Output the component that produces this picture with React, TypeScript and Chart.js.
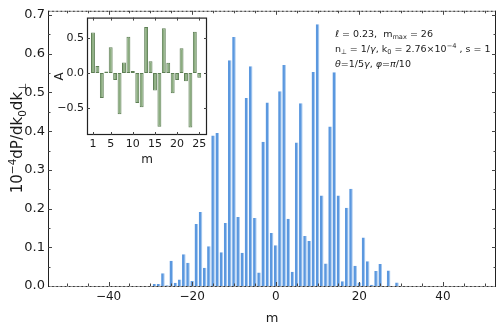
import React, { useEffect, useRef } from 'react';
import { Chart, registerables } from 'chart.js';

Chart.register(...registerables);

// ---------- data ----------
const M_VALUES = [
  -29, -28, -27, -26, -25, -24, -23, -22, -21, -20,
  -19, -18, -17, -16, -15, -14, -13, -12, -11, -10,
  -9, -8, -7, -6, -5, -4, -3, -2, -1, 0,
  1, 2, 3, 4, 5, 6, 7, 8, 9, 10,
  11, 12, 13, 14, 15, 16, 17, 18, 19, 20,
  21, 22, 23, 24, 25, 26, 27, 28, 29,
];
const POWER_VALUES = [
  0.005, 0.005, 0.033, 0.002, 0.065, 0.0085, 0.017, 0.082, 0.060, 0.013,
  0.160, 0.191, 0.047, 0.103, 0.389, 0.395, 0.0875, 0.163, 0.583, 0.643,
  0.178, 0.086, 0.486, 0.568, 0.176, 0.035, 0.373, 0.474, 0.137, 0.105,
  0.503, 0.571, 0.174, 0.037, 0.371, 0.472, 0.129, 0.116, 0.553, 0.676,
  0.234, 0.058, 0.412, 0.552, 0.234, 0.012, 0.202, 0.251, 0.052, 0.009,
  0.125, 0.064, 0.003, 0.039, 0.057, 0.0, 0.040, 0.0, 0.009,
];
const X_TICKS = [-40, -20, 0, 20, 40];
const Y_TICKS = [0, 0.1, 0.2, 0.3, 0.4, 0.5, 0.6, 0.7];

const INSET_M = [
  1, 2, 3, 4, 5, 6, 7, 8, 9, 10, 11, 12, 13,
  14, 15, 16, 17, 18, 19, 20, 21, 22, 23, 24, 25,
];
const INSET_A = [
  0.58, 0.10, -0.36, 0.02, 0.37, -0.10, -0.59, 0.15, 0.52, 0.03, -0.43, -0.49, 0.66,
  0.17, -0.25, -0.77, 0.64, 0.145, -0.29, -0.10, 0.355, -0.12, -0.78, 0.59, -0.07,
];
const INSET_X_TICKS = [1, 5, 10, 15, 20, 25];
const INSET_Y_TICKS = [-0.5, 0, 0.5];

// ---------- helpers ----------
const FONT = "'DejaVu Sans', sans-serif";
const TEXT = '#1a1a1a';
const fmt = (v: number, d: number) => (v < -1e-9 ? '\u2212' : '') + Math.abs(v).toFixed(d);

type Seg = { t: string; i?: boolean; pos?: 'sub' | 'sup' };

function richWidth(ctx: CanvasRenderingContext2D, segs: Seg[], size: number) {
  let w = 0;
  for (const s of segs) {
    const fs = s.pos ? size * 0.7 : size;
    ctx.font = `${s.i ? 'italic ' : ''}${fs}px ${FONT}`;
    w += ctx.measureText(s.t).width;
  }
  return w;
}

function drawRich(ctx: CanvasRenderingContext2D, segs: Seg[], x: number, y: number, size: number) {
  let cx = x;
  ctx.textBaseline = 'alphabetic';
  ctx.textAlign = 'left';
  for (const s of segs) {
    const fs = s.pos ? size * 0.7 : size;
    ctx.font = `${s.i ? 'italic ' : ''}${fs}px ${FONT}`;
    const dy = s.pos === 'sub' ? size * 0.28 : s.pos === 'sup' ? -size * 0.42 : 0;
    ctx.fillText(s.t, cx, y + dy);
    cx += ctx.measureText(s.t).width;
  }
}

const Y_TITLE: Seg[] = [
  { t: '10' }, { t: '\u22124', pos: 'sup' }, { t: 'dP/dk' }, { t: '0', pos: 'sub' },
  { t: 'dk' }, { t: '\u22a5', pos: 'sub' },
];
const NOTE_LINES: Seg[][] = [
  [{ t: '\u2113', i: true }, { t: ' = 0.23,  m' }, { t: 'max', pos: 'sub' }, { t: ' = 26' }],
  [
    { t: 'n' }, { t: '\u22a5', pos: 'sub' }, { t: ' = 1/' }, { t: '\u03b3', i: true },
    { t: ', k' }, { t: '0', pos: 'sub' }, { t: ' = 2.76\u00d710' }, { t: '\u22124', pos: 'sup' },
    { t: ' , s = 1' },
  ],
  [
    { t: '\u03b8', i: true }, { t: '=1/5' }, { t: '\u03b3', i: true }, { t: ', ' },
    { t: '\u03c6', i: true }, { t: '=' }, { t: '\u03c0', i: true }, { t: '/10' },
  ],
];

const mainDecor = {
  id: 'mainDecor',
  afterDraw(chart: any) {
    const { ctx, chartArea } = chart;
    const { left, right, top, bottom } = chartArea;
    const xs = chart.scales.x;
    const ys = chart.scales.y;
    ctx.save();
    // top & bottom edges (light line with dark unit marks)
    const unit = xs.getPixelForValue(1) - xs.getPixelForValue(0);
    for (const yy of [top + 0.5, bottom + 0.5]) {
      ctx.strokeStyle = '#9a9a9a';
      ctx.lineWidth = 1;
      ctx.beginPath();
      ctx.moveTo(left, yy);
      ctx.lineTo(right, yy);
      ctx.stroke();
      ctx.strokeStyle = '#333';
      ctx.setLineDash([1.6, unit - 1.6]);
      ctx.beginPath();
      ctx.moveTo(left, yy);
      ctx.lineTo(right, yy);
      ctx.stroke();
      ctx.setLineDash([]);
    }
    // left & right edges
    ctx.strokeStyle = '#222';
    ctx.lineWidth = 1;
    ctx.beginPath();
    ctx.moveTo(left + 0.5, top);
    ctx.lineTo(left + 0.5, bottom + 1);
    ctx.moveTo(right - 0.5, top);
    ctx.lineTo(right - 0.5, bottom + 1);
    ctx.stroke();
    // inward ticks
    ctx.strokeStyle = '#444';
    ctx.beginPath();
    for (let k = 1; k <= 14; k++) {
      const v = k * 0.05;
      const py = Math.round(ys.getPixelForValue(v)) + 0.5;
      const len = k % 2 === 0 ? 4 : 2.5;
      ctx.moveTo(left, py);
      ctx.lineTo(left + len, py);
      ctx.moveTo(right, py);
      ctx.lineTo(right - len, py);
    }
    for (let v = -50; v <= 50; v += 5) {
      const px = Math.round(xs.getPixelForValue(v)) + 0.5;
      const len = v % 20 === 0 ? 4 : 2.5;
      ctx.moveTo(px, top);
      ctx.lineTo(px, top + len);
      ctx.moveTo(px, bottom);
      ctx.lineTo(px, bottom - len);
    }
    ctx.stroke();

    // y-axis title (rotated rich text)
    ctx.fillStyle = TEXT;
    const ts = 15;
    const tw = richWidth(ctx, Y_TITLE, ts);
    ctx.save();
    ctx.translate(22, 138);
    ctx.rotate(-Math.PI / 2);
    drawRich(ctx, Y_TITLE, -tw / 2, 0, ts);
    ctx.restore();

    // annotation
    const ns = 9.5;
    NOTE_LINES.forEach((line, i) => {
      drawRich(ctx, line, 335, 36.5 + i * 15, ns);
    });
    ctx.restore();
  },
};

const insetDecor = {
  id: 'insetDecor',
  beforeDraw(chart: any) {
    const { ctx, chartArea } = chart;
    ctx.save();
    ctx.fillStyle = '#ffffff';
    ctx.fillRect(chartArea.left, chartArea.top, chartArea.right - chartArea.left, chartArea.bottom - chartArea.top);
    ctx.restore();
  },
  afterDraw(chart: any) {
    const { ctx, chartArea } = chart;
    const { left, right, top, bottom } = chartArea;
    const xs = chart.scales.x;
    const ys = chart.scales.y;
    ctx.save();
    ctx.strokeStyle = '#222';
    ctx.lineWidth = 1.2;
    ctx.strokeRect(left + 0.5, top + 0.5, right - left - 1, bottom - top - 1);
    ctx.lineWidth = 1;
    ctx.strokeStyle = '#444';
    ctx.beginPath();
    for (const v of INSET_Y_TICKS) {
      const py = Math.round(ys.getPixelForValue(v)) + 0.5;
      ctx.moveTo(left, py);
      ctx.lineTo(left + 3, py);
      ctx.moveTo(right, py);
      ctx.lineTo(right - 3, py);
    }
    for (const v of INSET_X_TICKS) {
      const px = Math.round(xs.getPixelForValue(v)) + 0.5;
      ctx.moveTo(px, top);
      ctx.lineTo(px, top + 3);
      ctx.moveTo(px, bottom);
      ctx.lineTo(px, bottom - 3);
    }
    ctx.stroke();
    ctx.restore();
  },
};

export default function App() {
  const mainRef = useRef<HTMLCanvasElement>(null);
  const insetRef = useRef<HTMLCanvasElement>(null);

  useEffect(() => {
    const main = new Chart(mainRef.current as HTMLCanvasElement, {
      type: 'bar',
      data: {
        datasets: [
          {
            data: M_VALUES.map((m, i) => ({ x: m, y: POWER_VALUES[i] })),
            backgroundColor: '#5B98DF',
            borderColor: '#A6C9F0',
            borderWidth: { top: 0, left: 0, bottom: 0, right: 1 },
            barPercentage: 0.86,
            categoryPercentage: 1,
          } as any,
        ],
      },
      options: {
        responsive: false,
        animation: false,
        devicePixelRatio: 1,
        layout: { padding: { top: 10, right: 2, left: 0, bottom: 0 } },
        plugins: { legend: { display: false }, tooltip: { enabled: false } },
        scales: {
          x: {
            type: 'linear',
            min: -54.5,
            max: 52.7,
            offset: false,
            grid: { display: false, drawTicks: false },
            border: { display: false },
            afterBuildTicks: (s: any) => {
              s.ticks = X_TICKS.map((v) => ({ value: v }));
            },
            afterFit: (s: any) => {
              s.height = 41;
            },
            ticks: {
              font: { family: FONT, size: 12 },
              color: TEXT,
              padding: 4,
              maxRotation: 0,
              autoSkip: false,
              callback: (v: any) => fmt(Number(v), 0),
            },
            title: {
              display: true,
              text: 'm',
              font: { family: FONT, size: 13 },
              color: TEXT,
              padding: { top: 0, bottom: 1 },
            },
          },
          y: {
            type: 'linear',
            min: 0,
            max: 0.711,
            grid: { display: false, drawTicks: false },
            border: { display: false },
            afterBuildTicks: (s: any) => {
              s.ticks = Y_TICKS.map((v) => ({ value: v }));
            },
            afterFit: (s: any) => {
              s.width = 48;
            },
            ticks: {
              font: { family: FONT, size: 13 },
              color: TEXT,
              padding: 3,
              autoSkip: false,
              callback: (v: any) => fmt(Number(v), 1),
            },
          },
        },
      } as any,
      plugins: [mainDecor],
    });

    const inset = new Chart(insetRef.current as HTMLCanvasElement, {
      type: 'bar',
      data: {
        datasets: [
          {
            data: INSET_M.map((m, i) => ({ x: m, y: INSET_A[i] })),
            backgroundColor: '#8CAD80',
            borderColor: '#5E7F55',
            borderWidth: 1,
            borderSkipped: false,
            barPercentage: 0.88,
            categoryPercentage: 1,
          } as any,
        ],
      },
      options: {
        responsive: false,
        animation: false,
        devicePixelRatio: 1,
        layout: { padding: { top: 5, right: 5, left: 0, bottom: 0 } },
        plugins: { legend: { display: false }, tooltip: { enabled: false } },
        scales: {
          x: {
            type: 'linear',
            min: -0.35,
            max: 26.75,
            offset: false,
            grid: { display: false, drawTicks: false },
            border: { display: false },
            afterBuildTicks: (s: any) => {
              s.ticks = INSET_X_TICKS.map((v) => ({ value: v }));
            },
            afterFit: (s: any) => {
              s.height = 35;
            },
            ticks: {
              font: { family: FONT, size: 11 },
              color: TEXT,
              padding: 3,
              maxRotation: 0,
              autoSkip: false,
              callback: (v: any) => String(v),
            },
            title: {
              display: true,
              text: 'm',
              font: { family: FONT, size: 12 },
              color: TEXT,
              padding: { top: 0, bottom: 3 },
            },
          },
          y: {
            type: 'linear',
            min: -0.889,
            max: 0.794,
            grid: { display: false, drawTicks: false },
            border: { display: false },
            afterBuildTicks: (s: any) => {
              s.ticks = INSET_Y_TICKS.map((v) => ({ value: v }));
            },
            afterFit: (s: any) => {
              s.width = 37;
            },
            ticks: {
              font: { family: FONT, size: 11 },
              color: TEXT,
              padding: 3,
              autoSkip: false,
              callback: (v: any) => fmt(Number(v), 1),
            },
            title: {
              display: true,
              text: 'A',
              font: { family: FONT, size: 12 },
              color: TEXT,
              padding: { top: 3, bottom: 0 },
            },
          },
        },
      } as any,
      plugins: [insetDecor],
    });

    return () => {
      main.destroy();
      inset.destroy();
    };
  }, []);

  return (
    <div style={{ position: 'absolute', left: 0, top: 0, width: 498, height: 327, background: '#ffffff' }}>
      <canvas
        ref={mainRef}
        width={498}
        height={327}
        style={{ position: 'absolute', left: 0, top: 0, width: 498, height: 327 }}
      />
      <canvas
        ref={insetRef}
        width={162}
        height={162}
        style={{ position: 'absolute', left: 50, top: 8, width: 162, height: 162 }}
      />
    </div>
  );
}
